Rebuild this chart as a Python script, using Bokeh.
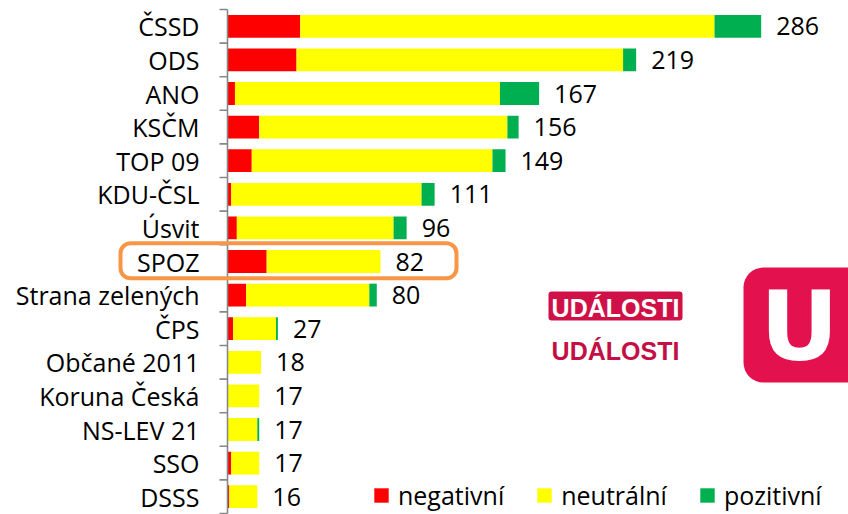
import math
from bokeh.plotting import figure
from bokeh.models import (ColumnDataSource, Range1d, BoxAnnotation,
                          Label, Legend, LegendItem)
from bokeh.embed import file_html
from bokeh.resources import INLINE
from bokeh.core.properties import value

# ---- data ----
parties = ["ČSSD", "ODS", "ANO", "KSČM", "TOP 09", "KDU-ČSL", "Úsvit", "SPOZ",
           "Strana zelených", "ČPS", "Občané 2011", "Koruna Česká", "NS-LEV 21",
           "SSO", "DSSS"]
negative = [39, 37, 4, 17, 13, 2, 5, 21, 10, 3, 0, 0, 0, 2, 1]
neutral = [222, 175, 142, 133, 129, 102, 84, 61, 66, 23, 18, 17, 16, 15, 15]
positive = [25, 7, 21, 6, 7, 7, 7, 0, 4, 1, 0, 0, 1, 0, 0]
series_names = ["negativní", "neutrální", "pozitivní"]
series_colors = ["#FF0000", "#FFFF00", "#00B050"]
highlight = "SPOZ"
logo_text = "UDÁLOSTI"
logo_letter = "U"

totals = [a + b + c for a, b, c in zip(negative, neutral, positive)]
ypos = list(range(len(parties)))
bounds = [i - 0.5 for i in range(len(parties) + 1)]

# ---- layout ----
FONT = "Open Sans"
FS = "25px"
W, H = 848, 514
AXIS_X = 227          # pixel position of the value axis
TOP_PX = 9            # pixel position of the first category boundary
PX_PER_UNIT = 1.866
ROW_PX = 33.6
AXIS_COLOR = "#878787"

x_start = -AXIS_X / PX_PER_UNIT
x_end = (W - AXIS_X) / PX_PER_UNIT
y_top = -0.5 - TOP_PX / ROW_PX
y_bottom = y_top + H / ROW_PX

p = figure(width=W, height=H, output_backend="svg", toolbar_location=None,
           x_range=Range1d(x_start, x_end), y_range=Range1d(y_bottom, y_top),
           min_border=0, x_axis_location=None, y_axis_location=None)
p.outline_line_color = None
p.xgrid.grid_line_color = None
p.ygrid.grid_line_color = None

src = ColumnDataSource(dict(y=ypos, party=parties, neg=negative, neu=neutral,
                            pos=positive, total=totals,
                            label=[str(t) for t in totals]))
rs = p.hbar_stack(["neg", "neu", "pos"], y="y", height=0.68,
                  fill_color=series_colors, line_color=None, source=src)

# value labels
p.text(x="total", y="y", text="label", source=src, x_offset=15,
       text_baseline="middle", text_align="left", text_font=value(FONT),
       text_font_size=FS, text_color="#000000")

# category axis: line, boundary ticks, labels
p.segment(x0=0, y0=bounds[0], x1=0, y1=bounds[-1], line_color=AXIS_COLOR, line_width=1.6)
p.ray(x=[0] * len(bounds), y=bounds, length=8, length_units="screen", angle=math.pi,
      line_color=AXIS_COLOR, line_width=1.6)
p.text(x=0, y="y", text="party", source=src, x_offset=-28,
       text_baseline="middle", text_align="right", text_font=value(FONT),
       text_font_size=FS, text_color="#000000")

# highlight box around SPOZ
hi = parties.index(highlight)
p.add_layout(BoxAnnotation(left=120, left_units="screen", right=456, right_units="screen",
                           top=hi - 0.54, bottom=hi + 0.5,
                           fill_alpha=0, line_color="#F79646", line_alpha=1,
                           line_width=4, border_radius=10))

# logos
p.add_layout(BoxAnnotation(left=548, right=682, top=223, bottom=194,
                           left_units="screen", right_units="screen",
                           top_units="screen", bottom_units="screen",
                           fill_color="#CF1148", fill_alpha=1, line_color=None,
                           border_radius=3))
p.add_layout(Label(x=615, y=207, x_units="screen", y_units="screen", text=logo_text,
                   text_align="center", text_baseline="middle", text_color="white",
                   text_font="Liberation Sans", text_font_style="bold",
                   text_font_size="25px"))
p.add_layout(Label(x=615, y=164, x_units="screen", y_units="screen", text=logo_text,
                   text_align="center", text_baseline="middle", text_color="#C30F44",
                   text_font="Liberation Sans", text_font_style="bold",
                   text_font_size="25px"))
p.add_layout(BoxAnnotation(left=743, right=900, top=247, bottom=132,
                           left_units="screen", right_units="screen",
                           top_units="screen", bottom_units="screen",
                           fill_color="#E3124F", fill_alpha=1, line_color=None,
                           border_radius=(20, 0, 0, 20)))
p.add_layout(Label(x=799, y=188, x_units="screen", y_units="screen", text=logo_letter,
                   text_align="center", text_baseline="middle", text_color="white",
                   text_font="DejaVu Sans", text_font_style="bold",
                   text_font_size="97px"))

legend = Legend(items=[LegendItem(label=n, renderers=[r]) for n, r in zip(series_names, rs)],
                orientation="horizontal", location=(372, 2),
                glyph_width=18, glyph_height=18, label_standoff=8, spacing=31,
                padding=0, margin=0, border_line_color=None, background_fill_alpha=0,
                label_text_font=FONT, label_text_font_size=FS, label_text_color="#000000")
p.add_layout(legend)

open("out.html", "w").write(file_html(p, INLINE))
